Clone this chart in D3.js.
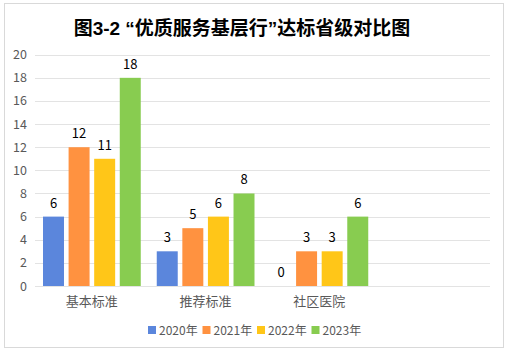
<!DOCTYPE html>
<html><head><meta charset="utf-8">
<script src="https://cdn.jsdelivr.net/npm/d3@7"></script>
<style>body{margin:0;background:#fff}svg{display:block}</style>
</head><body>
<script>
const title = "图3-2 “优质服务基层行”达标省级对比图";
const categories = ["基本标准", "推荐标准", "社区医院"];
const slots = ["基本标准", "推荐标准", "社区医院", ""];
const seriesNames = ["2020年", "2021年", "2022年", "2023年"];
const v2020 = [6, 3, 0];
const v2021 = [12, 5, 3];
const v2022 = [11, 6, 3];
const v2023 = [18, 8, 6];
const yTicks = [0, 2, 4, 6, 8, 10, 12, 14, 16, 18, 20];
const colors = ["#5B86DC", "#FF9240", "#FFC618", "#88CC50"];
const series = [v2020, v2021, v2022, v2023];

const W = 515, H = 358;
const svg = d3.select("body").append("svg").attr("width", W).attr("height", H);
svg.append("rect").attr("x", 4.5).attr("y", 3.5).attr("width", 499).attr("height", 344)
  .attr("fill", "#fff").attr("stroke", "#d9d9d9");

const font = "'Microsoft YaHei','Noto Sans CJK SC',sans-serif";
svg.append("text").attr("x", 242).attr("y", 35).attr("text-anchor", "middle")
  .attr("font-family", "'Liberation Sans','Noto Sans CJK SC',sans-serif").attr("font-weight", "bold")
  .attr("font-size", 19).attr("fill", "#000").text(title);

const x0 = d3.scaleBand().domain(slots).range([35, 490]).padding(0);
const x1 = d3.scaleBand().domain(seriesNames).range([8, x0.bandwidth() - 8]).paddingInner(0.18);
const y = d3.scaleLinear().domain([0, 20]).range([286, 54.7]);

const g = svg.append("g");
g.selectAll("line.grid").data(yTicks).join("line")
  .attr("x1", 35).attr("x2", 490)
  .attr("y1", d => Math.round(y(d)) + 0.5).attr("y2", d => Math.round(y(d)) + 0.5)
  .attr("stroke", "#e3e3e3").attr("stroke-width", 1);

g.selectAll("text.ytick").data(yTicks).join("text")
  .attr("x", 27).attr("y", d => y(d) + 4.5).attr("text-anchor", "end")
  .attr("font-family", font).attr("font-size", 12.5).attr("fill", "#595959").text(d => d);

g.selectAll("text.cat").data(categories).join("text")
  .attr("x", d => x0(d) + x0.bandwidth() / 2).attr("y", 306).attr("text-anchor", "middle")
  .attr("font-family", font).attr("font-size", 13).attr("fill", "#595959").text(d => d);

series.forEach((vals, si) => {
  const name = seriesNames[si];
  const gg = svg.append("g");
  gg.selectAll("rect").data(categories).join("rect")
    .attr("x", d => x0(d) + x1(name))
    .attr("y", (d, i) => y(vals[i]))
    .attr("width", x1.bandwidth())
    .attr("height", (d, i) => y(0) - y(vals[i]))
    .attr("fill", colors[si]);
  gg.selectAll("text").data(categories).join("text")
    .attr("x", d => x0(d) + x1(name) + x1.bandwidth() / 2)
    .attr("y", (d, i) => y(vals[i]) - 9)
    .attr("text-anchor", "middle").attr("font-family", font).attr("font-size", 13)
    .attr("fill", "#000").text((d, i) => vals[i]);
});

const leg = svg.append("g");
seriesNames.forEach((n, i) => {
  const lx = 148 + i * 54.5;
  leg.append("rect").attr("x", lx).attr("y", 326).attr("width", 8).attr("height", 8).attr("fill", colors[i]);
  leg.append("text").attr("x", lx + 11).attr("y", 334.5).attr("font-family", font)
    .attr("font-size", 12).attr("fill", "#595959").text(n);
});
</script>
</body></html>
